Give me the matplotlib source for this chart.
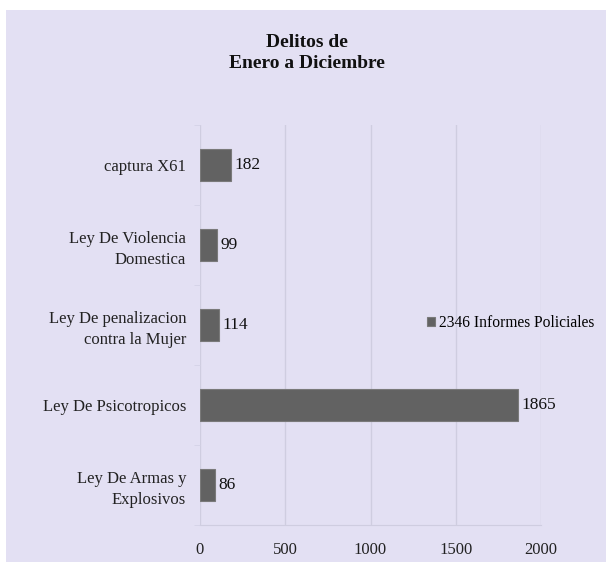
import matplotlib.pyplot as plt
import matplotlib.patches as mpatches
import numpy as np

categorias = ["Ley De Armas y\nExplosivos", "Ley De Psicotropicos",
              "Ley De penalizacion\ncontra la Mujer", "Ley De Violencia\nDomestica",
              "captura X61"]
valores = [86, 1865, 114, 99, 182]
serie = "2346 Informes Policiales"
titulo = "Delitos de\nEnero a Diciembre"
xticks = [0, 500, 1000, 1500, 2000]

fondo = "#e3e0f3"
gris = "#626262"

plt.rcParams['font.family'] = ['Liberation Serif', 'DejaVu Serif']

fig = plt.figure(figsize=(6.06, 5.62), dpi=100, facecolor="white")
fig.patches.append(mpatches.Rectangle((6/606, 0), 1, 552/562, transform=fig.transFigure,
                                      facecolor=fondo, edgecolor="none", zorder=-10))

ax = fig.add_axes([200/606, 37/562, 341/606, 400/562])
ax.set_facecolor("none")

y = np.arange(len(categorias))
barras = ax.barh(y, valores, height=0.4, color=gris, edgecolor="#7a7a7a", linewidth=0.8,
                 label=serie, zorder=3)
for yi, v in zip(y, valores):
    ax.text(v + 20, yi, str(v), va="center", ha="left", fontsize=12.5, color="#111111")

ax.set_xlim(0, 2000)
ax.set_ylim(-0.5, len(categorias) - 0.5)
ax.set_xticks(xticks)
ax.set_yticks(y)
ax.set_yticklabels(categorias, fontsize=12, color="#222222", linespacing=1.45)
ax.set_yticks(np.arange(len(categorias) + 1) - 0.5, minor=True)
ax.tick_params(axis="y", which="major", length=0, pad=10)
ax.tick_params(axis="y", which="minor", length=4, color="#d4d2e6")
ax.tick_params(axis="x", length=0, labelsize=12, labelcolor="#222222", pad=12)
ax.grid(axis="x", color="#cfcde0", linewidth=1, zorder=0)
for s in ["top", "right", "left"]:
    ax.spines[s].set_visible(False)
ax.spines["bottom"].set_color("#cfcde0")

fig.text(0.507, 0.906, titulo, ha="center", va="center", fontsize=14,
         fontweight="bold", color="#111111", linespacing=1.35)

fig.legend(handles=[barras], loc="center left", bbox_to_anchor=(427/606, 1 - 323/562),
           frameon=False, fontsize=11.2, handlelength=0.5, handleheight=0.5,
           handletextpad=0.3, borderpad=0, borderaxespad=0)

fig.savefig("out.png", dpi=100, facecolor=fig.get_facecolor())
